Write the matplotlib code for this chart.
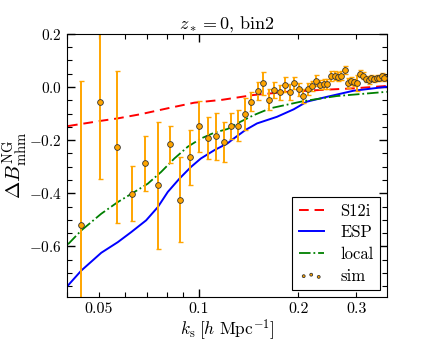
import matplotlib
matplotlib.use("Agg")
import matplotlib.pyplot as plt

plt.rcParams['font.family'] = 'serif'
plt.rcParams['font.serif'] = ['cmr10']
plt.rcParams['mathtext.fontset'] = 'cm'
plt.rcParams['axes.formatter.use_mathtext'] = True

# simulation points
k_sim = [0.0440, 0.0503, 0.0565, 0.0628, 0.0691, 0.0754, 0.0817, 0.0880,
         0.0942, 0.1005, 0.1068, 0.1131, 0.1194, 0.1257, 0.1319, 0.1382,
         0.1445, 0.1508, 0.1570, 0.1633, 0.1696, 0.1759, 0.1822, 0.1885,
         0.1947, 0.2011, 0.2073, 0.2136, 0.2199, 0.2262, 0.2325, 0.2388,
         0.2450, 0.2513, 0.2576, 0.2639, 0.2702, 0.2765, 0.2827, 0.2890,
         0.2953, 0.3016, 0.3079, 0.3142, 0.3204, 0.3267, 0.3330, 0.3393,
         0.3456, 0.3519, 0.3581, 0.3644]
b_sim = [-0.518, -0.057, -0.226, -0.401, -0.287, -0.370, -0.215, -0.425,
         -0.265, -0.148, -0.191, -0.185, -0.206, -0.147, -0.145, -0.103,
         -0.055, -0.015, 0.014, -0.048, -0.011, -0.020, 0.009, -0.018,
         0.014, -0.008, -0.034, -0.008, 0.004, 0.024, 0.009, 0.012,
         0.011, 0.042, 0.043, 0.039, 0.043, 0.064, 0.016, 0.023,
         0.018, 0.016, 0.050, 0.042, 0.030, 0.025, 0.033, 0.031,
         0.035, 0.033, 0.040, 0.035]
err_sim = [0.54, 0.29, 0.285, 0.105, 0.104, 0.238, 0.07, 0.16,
           0.104, 0.097, 0.08, 0.088, 0.075, 0.05, 0.057, 0.06,
           0.035, 0.033, 0.044, 0.04, 0.03, 0.028, 0.027, 0.03,
           0.022, 0.025, 0.025, 0.022, 0.02, 0.02, 0.018, 0.018,
           0.018, 0.018, 0.017, 0.016, 0.016, 0.015, 0.018, 0.014,
           0.014, 0.03, 0.013, 0.013, 0.012, 0.012, 0.012, 0.011,
           0.011, 0.011, 0.011, 0.011]

# model curves
k_s12i = [0.0403, 0.0508, 0.0570, 0.0670, 0.0807, 0.0970, 0.1180, 0.1467,
          0.1858, 0.2337, 0.2938, 0.3704]
b_s12i = [-0.147, -0.127, -0.118, -0.102, -0.080, -0.059, -0.048, -0.030,
          -0.018, -0.011, -0.005, 0.004]

k_esp = [0.0403, 0.0442, 0.0508, 0.0570, 0.0626, 0.0694, 0.0753, 0.0807,
         0.0875, 0.0948, 0.1016, 0.1115, 0.1223, 0.1277, 0.1385, 0.1502,
         0.1726, 0.1938, 0.2125, 0.2441, 0.2938, 0.3704]
b_esp = [-0.747, -0.691, -0.624, -0.584, -0.546, -0.502, -0.452, -0.395,
         -0.345, -0.301, -0.269, -0.238, -0.212, -0.194, -0.162, -0.137,
         -0.112, -0.084, -0.055, -0.037, -0.014, 0.001]

k_local = [0.0403, 0.0442, 0.0508, 0.0570, 0.0640, 0.0702, 0.0770, 0.0845,
           0.0927, 0.1016, 0.1115, 0.1223, 0.1308, 0.1467, 0.1648, 0.2075,
           0.2614, 0.3704]
b_local = [-0.592, -0.540, -0.477, -0.433, -0.395, -0.364, -0.320, -0.269,
           -0.225, -0.194, -0.172, -0.158, -0.137, -0.106, -0.080, -0.053,
           -0.034, -0.018]

fig = plt.figure(figsize=(4.29, 3.46), dpi=100)
ax = fig.add_axes([0.156, 0.142, 0.746, 0.760])

ax.plot(k_s12i, b_s12i, color='r', ls='--', lw=1.4, dashes=(5, 3), label='S12i')
ax.plot(k_esp, b_esp, color='b', ls='-', lw=1.4, label='ESP')
ax.plot(k_local, b_local, color='g', ls='-.', lw=1.3, label='local')
ax.errorbar(k_sim, b_sim, yerr=err_sim, fmt='none', ecolor='orange',
            elinewidth=1.4, capsize=1.8, capthick=1.0)
ax.scatter(k_sim, b_sim, s=17, facecolor='orange', edgecolor='#333333',
           linewidth=0.6, zorder=3, label='sim')

ax.set_xscale('log')
ax.set_xlim(0.0403, 0.371)
ax.set_ylim(-0.79, 0.2)

ax.set_xticks([0.1], ['0.1'])
ax.set_xticks([0.04, 0.05, 0.06, 0.07, 0.08, 0.09, 0.2, 0.3],
              ['', '0.05', '', '', '', '', '0.2', '0.3'], minor=True)
ax.set_yticks([-0.6, -0.4, -0.2, 0.0, 0.2],
              ['$-0.6$', '$-0.4$', '$-0.2$', '$0.0$', '$0.2$'])
ax.set_yticks([i * 0.05 - 0.75 for i in range(20)], minor=True)
ax.tick_params(which='both', direction='in', top=True, right=True)
ax.tick_params(axis='x', which='both', labelsize=11.5, pad=4)
ax.tick_params(axis='y', which='both', labelsize=11)
ax.tick_params(which='major', length=6, width=1)
ax.tick_params(which='minor', length=3.5, width=0.8)

ax.set_title(r'$z_* = 0$, bin2', fontsize=13, pad=4)
ax.set_xlabel(r'$k_{\rm s}\;[h\ {\rm Mpc}^{-1}]$', fontsize=12.5, labelpad=1)
ax.set_ylabel(r'$\Delta B^{\rm NG}_{\rm mhm}$', fontsize=15)
ax.yaxis.set_label_coords(-0.115, 0.5)

leg = ax.legend(loc='lower right', fontsize=12, frameon=True, fancybox=False,
                edgecolor='black', framealpha=1, handlelength=1.5,
                handletextpad=1.0, borderaxespad=0.4, markerscale=0.5,
                scatterpoints=3, labelspacing=0.38)
leg.get_frame().set_linewidth(0.8)

fig.savefig('out.png', dpi=100)
